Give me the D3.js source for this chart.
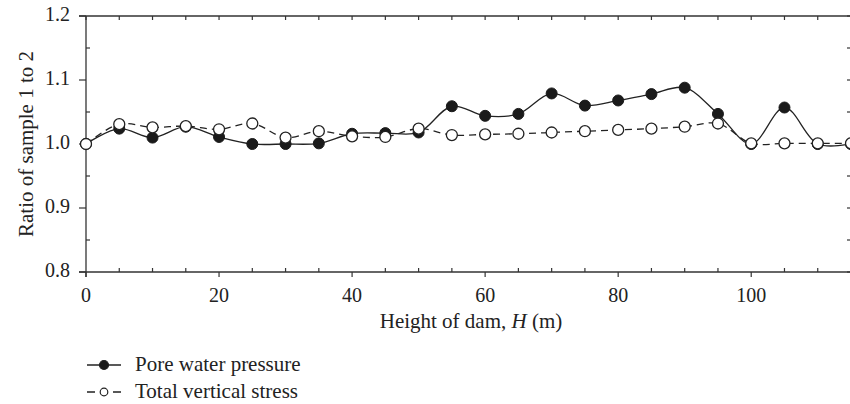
<!DOCTYPE html>
<html>
<head>
<meta charset="utf-8">
<script src="https://cdn.jsdelivr.net/npm/d3@7"></script>
<style>
  body { margin: 0; background: #fff; }
  text { font-family: "Liberation Serif", "DejaVu Serif", serif; fill: #222; }
</style>
</head>
<body>
<svg id="chart" width="850" height="404"></svg>
<script>
// heights (m) and ratio values
var heights = [0, 5, 10, 15, 20, 25, 30, 35, 40, 45, 50, 55, 60, 65, 70, 75, 80, 85, 90, 95, 100, 105, 110, 115];
var poreWater = [1.000, 1.024, 1.010, 1.027, 1.011, 1.000, 1.000, 1.001, 1.016, 1.017, 1.018, 1.059, 1.044, 1.047, 1.079, 1.060, 1.068, 1.078, 1.088, 1.047, 1.000, 1.057, 1.000, 1.000];
var totalStress = [1.000, 1.031, 1.026, 1.028, 1.023, 1.032, 1.010, 1.020, 1.012, 1.011, 1.024, 1.014, 1.015, 1.016, 1.018, 1.020, 1.022, 1.024, 1.027, 1.032, 1.001, 1.001, 1.001, 1.001];
var xTicks = [0, 20, 40, 60, 80, 100];
var yTicks = [0.8, 0.9, 1.0, 1.1, 1.2];
var seriesNames = ["Pore water pressure", "Total vertical stress"];

var margin = {left: 86, right: -1, top: 16, bottom: 132};
var W = 850, H = 404;
var svg = d3.select("#chart");

var x = d3.scaleLinear().domain([0, 115]).range([margin.left, W - margin.right]);
var y = d3.scaleLinear().domain([0.8, 1.2]).range([H - margin.bottom, margin.top]);

var axisColor = "#333";
var fs = "20px";
var fsTitle = "21px";
var g = svg.append("g");

// frame lines
g.append("line").attr("x1", x(0) - 7).attr("x2", x(115)).attr("y1", y(1.2)).attr("y2", y(1.2)).attr("stroke", axisColor).attr("stroke-width", 1.3);
g.append("line").attr("x1", x(0) - 7).attr("x2", x(115)).attr("y1", y(0.8)).attr("y2", y(0.8)).attr("stroke", axisColor).attr("stroke-width", 1.3);
g.append("line").attr("x1", x(0)).attr("x2", x(0)).attr("y1", y(1.2)).attr("y2", y(0.8) + 5).attr("stroke", axisColor).attr("stroke-width", 1.3);
g.append("line").attr("x1", x(115)).attr("x2", x(115)).attr("y1", y(1.2)).attr("y2", y(0.8)).attr("stroke", axisColor).attr("stroke-width", 1.3);

// x ticks: majors out below, minors in above; top ticks inward
d3.range(0, 116, 5).forEach(function(v) {
  var major = v % 20 === 0;
  if (major) {
    g.append("line").attr("x1", x(v)).attr("x2", x(v)).attr("y1", y(0.8)).attr("y2", y(0.8) + 5).attr("stroke", axisColor).attr("stroke-width", 1.2);
  } else {
    g.append("line").attr("x1", x(v)).attr("x2", x(v)).attr("y1", y(0.8)).attr("y2", y(0.8) - 4).attr("stroke", axisColor).attr("stroke-width", 1.2);
  }
  g.append("line").attr("x1", x(v)).attr("x2", x(v)).attr("y1", y(1.2)).attr("y2", y(1.2) + 4).attr("stroke", axisColor).attr("stroke-width", 1.2);
});

// y ticks
d3.range(0, 9).forEach(function(i) {
  var v = 0.8 + i * 0.05;
  var major = i % 2 === 0;
  if (major) {
    g.append("line").attr("x1", x(0) - 7).attr("x2", x(0)).attr("y1", y(v)).attr("y2", y(v)).attr("stroke", axisColor).attr("stroke-width", 1.2);
  } else {
    g.append("line").attr("x1", x(0)).attr("x2", x(0) + 4).attr("y1", y(v)).attr("y2", y(v)).attr("stroke", axisColor).attr("stroke-width", 1.2);
  }
  g.append("line").attr("x1", x(115)).attr("x2", x(115) - 4).attr("y1", y(v)).attr("y2", y(v)).attr("stroke", axisColor).attr("stroke-width", 1.2);
});

// tick labels
g.selectAll(".xl").data(xTicks).enter().append("text")
  .attr("x", function(d) { return x(d); }).attr("y", y(0.8) + 30)
  .attr("text-anchor", "middle").style("font-size", fs)
  .text(function(d) { return d; });
g.selectAll(".yl").data(yTicks).enter().append("text")
  .attr("x", x(0) - 16).attr("y", function(d) { return y(d) + 5; })
  .attr("text-anchor", "end").style("font-size", fs)
  .text(function(d) { return d.toFixed(1); });

// axis titles
var xt = g.append("text").attr("x", 471).attr("y", y(0.8) + 56)
  .attr("text-anchor", "middle").style("font-size", fsTitle);
xt.append("tspan").text("Height of dam, ");
xt.append("tspan").style("font-style", "italic").text("H");
xt.append("tspan").text(" (m)");

g.append("text").attr("transform", "translate(33," + (y(1.0) + 0) + ") rotate(-90)")
  .attr("text-anchor", "middle").style("font-size", fsTitle)
  .text("Ratio of sample 1 to 2");

// lines
var line = d3.line().curve(d3.curveCatmullRom.alpha(0.5));
var ptsA = heights.map(function(h, i) { return [x(h), y(poreWater[i])]; });
var ptsB = heights.map(function(h, i) { return [x(h), y(totalStress[i])]; });

g.append("path").attr("d", line(ptsA)).attr("fill", "none").attr("stroke", "#222").attr("stroke-width", 1.3);
g.append("path").attr("d", line(ptsB)).attr("fill", "none").attr("stroke", "#222").attr("stroke-width", 1.3).attr("stroke-dasharray", "7,5");

g.selectAll(".pa").data(ptsA).enter().append("circle")
  .attr("cx", function(d) { return d[0]; }).attr("cy", function(d) { return d[1]; })
  .attr("r", 5.5).attr("fill", "#1a1a1a").attr("stroke", "#1a1a1a");
g.selectAll(".pb").data(ptsB).enter().append("circle")
  .attr("cx", function(d) { return d[0]; }).attr("cy", function(d) { return d[1]; })
  .attr("r", 5.5).attr("fill", "#fff").attr("stroke", "#222").attr("stroke-width", 1.3);

// legend
var lg = svg.append("g");
[0, 1].forEach(function(i) {
  var ly = 365 + i * 27;
  lg.append("line").attr("x1", 87).attr("x2", 121).attr("y1", ly).attr("y2", ly)
    .attr("stroke", "#222").attr("stroke-width", 1.3)
    .attr("stroke-dasharray", i === 1 ? "8,18" : null);
  lg.append("circle").attr("cx", 104).attr("cy", ly).attr("r", i === 0 ? 4.5 : 3.8)
    .attr("fill", i === 0 ? "#1a1a1a" : "#fff").attr("stroke", "#222").attr("stroke-width", 1.2);
  lg.append("text").attr("x", 135).attr("y", ly + 6).style("font-size", fsTitle).text(seriesNames[i]);
});
</script>
</body>
</html>
